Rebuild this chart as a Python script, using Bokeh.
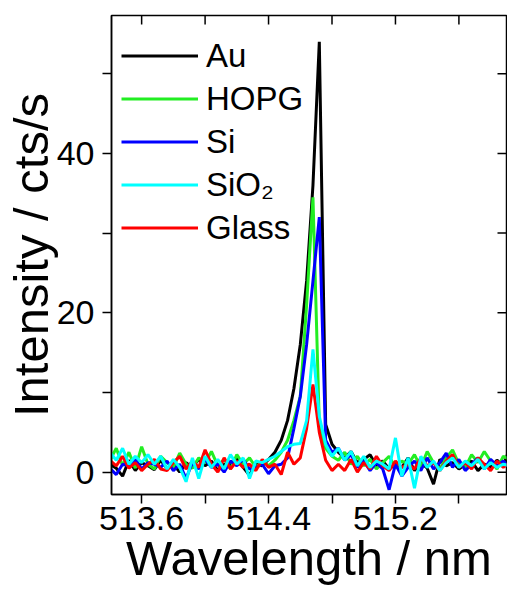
import numpy as np
from bokeh.plotting import figure
from bokeh.models import FixedTicker, Range1d, Legend, LegendItem, ColumnDataSource
from bokeh.embed import file_html
from bokeh.resources import INLINE

# sampling grid of the spectra (nm)
wavelength = np.round(513.40 + 0.04 * np.arange(64), 2)

au = [1.0, 0.5, -0.5, 1.5, 0.2, 1.2, 0.8, 0.3, 1.5, 0.5, 1.0, 0.0, 1.2, 0.6, 1.6, 0.8,
      1.4, 0.2, 1.0, 0.8, 1.8, 0.6, -0.4, 1.2, 0.8, 1.6,
      2.5, 4.0, 6.5, 10.5, 16.0, 24.0, 36.0, 54.0, 6.0, 3.5, 2.5,
      1.8, 2.6, 1.2, 1.6, 2.2, 0.8, 1.4, 0.4, 1.0, 0.6, 1.8, 0.2, 1.2, 0.5, -1.5, 1.6,
      0.8, 1.2, 0.4, 1.0, 1.4, 0.2, 1.0, 0.6, 1.5, 0.8, 3.0]

hopg = [1.5, 3.0, 0.8, 2.5, 0.5, 3.2, 1.0, 0.4, 2.0, 1.2, 0.6, 2.4, 1.0, 0.5, 1.8, 1.2,
        2.6, 0.8, 1.6, 0.4, 2.2, 1.0, 1.8, 0.6, 1.4, 0.8,
        1.5, 2.5, 4.0, 6.5, 9.5, 21.0, 34.5, 6.0, 3.0, 2.0,
        1.5, 2.5, 1.0, 2.0, 0.8, 1.6, 0.4, 1.2, 2.0, 0.6, 1.4, 1.0, 2.2, 0.6, 2.6, 1.2,
        0.4, 1.8, 2.8, 1.0, 0.6, 2.2, 1.2, 2.6, 1.4, 0.4, 2.0, 1.6]

si = [0.5, -0.3, 1.0, 0.8, 1.6, 0.4, 1.2, 1.0, 0.6, 1.4, 0.2, 1.0, -0.8, 1.2, 0.4, 1.6,
      0.6, 1.0, 0.0, 1.4, 0.8, 1.6, 0.4, 0.6, 1.0, -0.2,
      0.8, 1.0, 1.8, 5.5, 9.5, 16.0, 24.0, 32.0, 4.0, 2.5,
      3.0, 1.5, 2.2, 0.6, 1.4, 0.2, 1.2, 0.4, -2.2, 1.0, -0.5, 0.6, 1.4, 0.2, 1.8, 0.4,
      1.2, 2.4, 0.6, 1.6, 0.2, 1.0, 1.8, 0.4, 1.6, 0.8, 1.4, 0.6]

sio2 = [2.5, 1.5, 3.0, 1.0, 2.0, 1.2, 2.2, 1.0, 2.0, 0.4, 1.6, 0.6, -1.2, 1.8, -0.8, 2.0,
        0.6, 1.6, 0.4, 2.2, 1.0, 1.8, -0.8, 1.4, 1.2, 1.6,
        2.0, 2.6, 3.2, 3.5, 3.6, 6.5, 15.4, 7.0, 3.5, 2.0,
        3.0, 1.5, 2.6, 0.8, 2.0, 0.6, 1.4, 1.0, 0.4, 4.3, -0.5, 1.8, -2.0, 2.0, 0.6, 1.4,
        0.2, 1.2, 1.8, 0.6, 1.4, 0.8, 1.6, 0.4, 1.2, 0.6, 1.0, 0.8]

glass = [1.5, 0.8, 2.0, 0.5, 1.2, 0.2, 1.0, 1.6, 0.4, 0.2, 1.2, 2.0, 0.4, 1.4, 0.6, 2.8,
         1.0, 0.0, 1.8, 0.4, 1.4, 0.6, 1.0, 0.2, 1.6, 0.6,
         1.0, -0.3, 2.5, 1.0, 1.8, 5.5, 11.0, 5.0, 1.5, 0.2,
         1.0, 0.2, 1.6, 0.0, 1.2, 0.4, 2.0, 0.8, 0.2, 1.4, 0.6, 1.0, 0.4, 1.8, 0.8, 1.2,
         0.2, 1.4, 2.2, 0.6, 1.2, 0.4, 1.8, 1.0, 0.2, 1.4, 0.6, 1.2]

series_names = ["Au", "HOPG", "Si", "SiO\u2082", "Glass"]
series_values = [au, hopg, si, sio2, glass]
series_colors = ["#000000", "#22ee22", "#0000ff", "#00ffff", "#ff0000"]
draw_order = [0, 1, 2, 4, 3]

x_major = [513.6, 514.4, 515.2]
x_minor = [514.0, 514.8, 515.6]
y_major = [0, 20, 40]
y_minor = [10, 30, 50]

FONT = "Liberation Sans"

x_range = Range1d(513.41, 515.90)
y_range = Range1d(-2.8, 57.3)

p = figure(width=507, height=587, output_backend="svg", toolbar_location=None,
           x_range=x_range, y_range=y_range,
           min_border_left=0, min_border_right=1, min_border_top=15, min_border_bottom=0)
p.xgrid.visible = False
p.ygrid.visible = False
p.outline_line_color = "black"
p.outline_line_width = 1.5

src = ColumnDataSource(dict(x=wavelength, **{f"s{i}": v for i, v in enumerate(series_values)}))
renderers = {}
for i in draw_order:
    renderers[i] = p.line("x", f"s{i}", source=src, line_color=series_colors[i], line_width=3)

# mirrored inward ticks on the top and right frame edges
all_x_ticks = x_major + x_minor
all_y_ticks = y_major + y_minor
p.ray(x=all_x_ticks, y=[y_range.end] * len(all_x_ticks), length=9, length_units="screen",
      angle=-np.pi / 2, line_color="black", line_width=1.5)
p.ray(x=[x_range.end] * len(all_y_ticks), y=all_y_ticks, length=9, length_units="screen",
      angle=np.pi, line_color="black", line_width=1.5)

legend = Legend(items=[LegendItem(label=series_names[i], renderers=[renderers[i]]) for i in range(5)],
                location=(10, 245), padding=0, margin=0, spacing=0,
                glyph_width=77, glyph_height=43, label_height=43, label_standoff=8,
                label_text_font=FONT, label_text_font_size="33px", label_text_color="black",
                background_fill_alpha=0, border_line_alpha=0)
p.add_layout(legend, "center")

def style_main(ax):
    ax.axis_line_color = "black"
    ax.axis_line_width = 1.5
    ax.major_tick_line_width = 1.5
    ax.minor_tick_line_width = 1.5
    ax.major_tick_in = 0
    ax.major_tick_out = 9
    ax.minor_tick_in = 0
    ax.minor_tick_out = 9
    ax.major_label_text_font = FONT
    ax.major_label_text_font_size = "34px"
    ax.major_label_text_color = "black"
    ax.major_label_text_line_height = 1.0
    ax.axis_label_text_font = FONT
    ax.axis_label_text_font_size = "49px"
    ax.axis_label_text_font_style = "normal"
    ax.axis_label_text_color = "black"
    ax.axis_label_text_line_height = 1.0

p.xaxis.ticker = FixedTicker(ticks=x_major, minor_ticks=x_minor)
p.yaxis.ticker = FixedTicker(ticks=y_major, minor_ticks=y_minor)
style_main(p.xaxis[0])
style_main(p.yaxis[0])
p.xaxis.axis_label = "Wavelength / nm"
p.yaxis.axis_label = "Intensity / cts/s"
p.xaxis.major_label_standoff = 3
p.xaxis.axis_label_standoff = -2
p.yaxis.major_label_standoff = 8
p.yaxis.axis_label_standoff = -4

open("out.html", "w").write(file_html(p, INLINE))
